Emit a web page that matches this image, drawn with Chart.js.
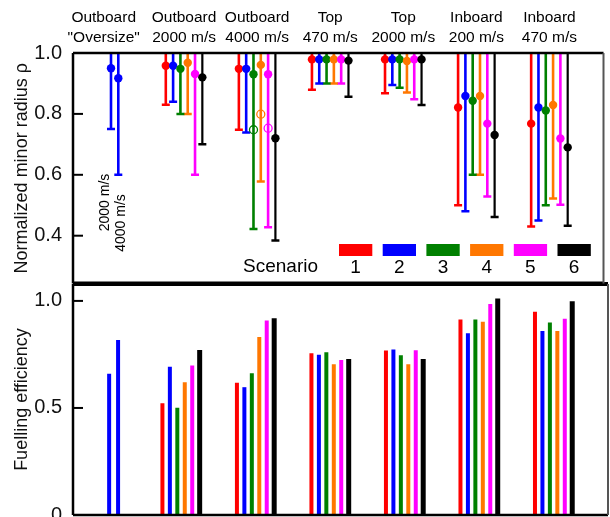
<!DOCTYPE html>
<html><head><meta charset="utf-8">
<script src="https://cdn.jsdelivr.net/npm/chart.js@4.4.1/dist/chart.umd.min.js"></script>
<style>
html,body{margin:0;padding:0;background:#fff;width:610px;height:517px;overflow:hidden;}
#wrap{position:relative;width:610px;height:517px;}
canvas{position:absolute;left:0;}
#top{top:0;width:610px;height:290px;}
#bot{top:270px;width:610px;height:247px;}
</style></head><body>
<div id="wrap"><canvas id="bot" width="610" height="247"></canvas><canvas id="top" width="610" height="290"></canvas></div>
<script>
// ---------- data ----------
const groupLabels = [['Outboard','"Oversize"'],['Outboard','2000 m/s'],['Outboard','4000 m/s'],['Top','470 m/s'],['Top','2000 m/s'],['Inboard','200 m/s'],['Inboard','470 m/s']];
const scenarioLabels = ['1','2','3','4','5','6'];
const scenarioColors = ['#ff0000','#0000ff','#008000','#ff7700','#ff00ff','#000000'];
const rhoTicks = [0.4,0.6,0.8,1.0];
const effTicks = [0,0.5,1.0];
const RHO_UPPER = 1.0;

// Outboard "Oversize" (scenario 2 only): 2000 m/s and 4000 m/s
const oversizeLabels = ['2000 m/s','4000 m/s'];
const oversizeRho = [0.95, 0.917];
const oversizeRhoLow = [0.75, 0.60];
const oversizeEff = [0.66, 0.818];

// groups: Outboard 2000, Outboard 4000, Top 470, Top 2000, Inboard 200, Inboard 470
const rhoMarker = [
  [0.958, 0.948, 0.979, 0.979, 0.821, 0.768],
  [0.958, 0.948, 0.979, 0.979, 0.859, 0.821],
  [0.948, 0.930, 0.979, 0.979, 0.843, 0.811],
  [0.968, 0.961, 0.979, 0.974, 0.859, 0.829],
  [0.931, 0.930, 0.979, 0.979, 0.768, 0.719],
  [0.920, 0.720, 0.975, 0.979, 0.731, 0.690]
];
const rhoLower = [
  [0.83, 0.748, 0.879, 0.868, 0.50, 0.43],
  [0.84, 0.739, 0.90, 0.895, 0.48, 0.45],
  [0.80, 0.422, 0.90, 0.886, 0.60, 0.50],
  [0.80, 0.578, 0.90, 0.870, 0.60, 0.522],
  [0.60, 0.428, 0.90, 0.848, 0.529, 0.502],
  [0.70, 0.384, 0.856, 0.829, 0.461, 0.433]
];
// open circles in Outboard 4000 m/s group
const outboard4000Open = [null, null, 0.748, 0.799, 0.753, null];

const efficiency = [
  [0.522, 0.618, 0.755, 0.768, 0.913, 0.949],
  [0.693, 0.597, 0.748, 0.773, 0.849, 0.860],
  [0.501, 0.662, 0.760, 0.746, 0.913, 0.899],
  [0.620, 0.832, 0.704, 0.704, 0.903, 0.860],
  [0.698, 0.908, 0.724, 0.770, 0.985, 0.917],
  [0.771, 0.919, 0.729, 0.729, 1.011, 0.999]
];

// ---------- layout helpers ----------
const FONT = "'Liberation Sans', Arial, Helvetica, sans-serif";
Chart.defaults.font.family = FONT;
Chart.defaults.color = '#000';
const slot = s => (s - 2.5) * 0.1;
const ovTop = [0.0, 0.1];
const ovBot = [0.035, 0.155];
const noPad = ax => { ax.paddingTop = 0; ax.paddingBottom = 0; ax.paddingLeft = 0; ax.paddingRight = 0; };

function framePlugin(id, isTop) {
  return {
    id,
    afterDraw(chart) {
      const {ctx, chartArea: a} = chart;
      const y = chart.scales.y;
      ctx.save();
      ctx.strokeStyle = '#000';
      ctx.lineWidth = 2;
      (isTop ? rhoTicks : effTicks).forEach(v => {
        const py = y.getPixelForValue(v);
        ctx.beginPath(); ctx.moveTo(a.left, py); ctx.lineTo(a.left + 10, py); ctx.stroke();
      });
      ctx.lineWidth = 2.5;
      ctx.beginPath();
      ctx.moveTo(a.left, a.top); ctx.lineTo(a.left, a.bottom);
      if (isTop) { ctx.moveTo(a.left, a.top); ctx.lineTo(a.right, a.top); }
      else { ctx.moveTo(a.left, a.bottom); ctx.lineTo(a.right, a.bottom); }
      ctx.stroke();
      ctx.lineWidth = 4;
      ctx.beginPath();
      const sy = isTop ? a.bottom : a.top;
      ctx.moveTo(a.left, sy); ctx.lineTo(a.right, sy); ctx.stroke();
      ctx.strokeStyle = '#555';
      ctx.lineWidth = 2;
      ctx.beginPath(); ctx.moveTo(a.right, a.top); ctx.lineTo(a.right, a.bottom); ctx.stroke();

      if (isTop) {
        ctx.fillStyle = '#000';
        ctx.textBaseline = 'middle';
        ctx.font = '19px ' + FONT;
        ctx.textAlign = 'right';
        ctx.fillText('Scenario', 318, 267);
        scenarioColors.forEach((c, i) => {
          const bx = 339 + i * 43.7;
          ctx.fillStyle = c;
          ctx.fillRect(bx, 244, 33.3, 12);
          ctx.fillStyle = '#000';
          ctx.textAlign = 'center';
          ctx.fillText(scenarioLabels[i], bx + 16.6, 268);
        });
        ctx.font = '14px ' + FONT;
        [[105.5, 202.5], [121.5, 223]].forEach((p, k) => {
          ctx.save();
          ctx.translate(p[0], p[1]);
          ctx.rotate(-Math.PI / 2);
          ctx.textAlign = 'center';
          ctx.fillText(oversizeLabels[k], 0, 0);
          ctx.restore();
        });
      }
      ctx.restore();
    }
  };
}

// ---------- top chart ----------
const topSets = [];
const blue = scenarioColors[1];
topSets.push({type: 'bar', data: oversizeRhoLow.map((lo, k) => ({x: ovTop[k], y: [lo, RHO_UPPER]})),
  backgroundColor: blue, maxBarThickness: 2.6, grouped: false, order: 30});
topSets.push({type: 'scatter', data: oversizeRhoLow.map((lo, k) => ({x: ovTop[k], y: lo})),
  pointStyle: 'line', pointRadius: 4, pointBorderColor: blue, pointBorderWidth: 2.5, order: 20});
topSets.push({type: 'scatter', data: oversizeRho.map((m, k) => ({x: ovTop[k], y: m})),
  pointStyle: 'circle', pointRadius: 4.2, pointBackgroundColor: blue, pointBorderColor: blue, pointBorderWidth: 0, order: 10});
for (let s = 0; s < 6; s++) {
  const c = scenarioColors[s];
  topSets.push({type: 'bar', data: rhoLower[s].map((lo, g) => ({x: g + 1 + slot(s), y: [lo, RHO_UPPER]})),
    backgroundColor: c, maxBarThickness: s === 5 ? 2.2 : 2.6, grouped: false, order: 30});
  topSets.push({type: 'scatter', data: rhoLower[s].map((lo, g) => ({x: g + 1 + slot(s), y: lo})),
    pointStyle: 'line', pointRadius: 4, pointBorderColor: c, pointBorderWidth: 2.5, order: 20});
  topSets.push({type: 'scatter', data: rhoMarker[s].map((m, g) => ({x: g + 1 + slot(s), y: m})),
    pointStyle: 'circle', pointRadius: 4.2, pointBackgroundColor: c, pointBorderColor: c, pointBorderWidth: 0, order: 10 - s});
  if (outboard4000Open[s] !== null) {
    topSets.push({type: 'scatter', data: [{x: 2 + slot(s), y: outboard4000Open[s]}],
      pointStyle: 'circle', pointRadius: 4, pointBackgroundColor: 'rgba(255,255,255,0)', pointBorderColor: c, pointBorderWidth: 1.3, order: 5});
  }
}

new Chart(document.getElementById('top'), {
  type: 'bar',
  data: {datasets: topSets},
  options: {
    responsive: false, animation: false, devicePixelRatio: 1, events: [],
    layout: {padding: {left: 0, right: 2, top: 0, bottom: 6}},
    plugins: {legend: {display: false}, tooltip: {enabled: false}},
    scales: {
      x: {
        type: 'linear', position: 'top', min: -0.52, max: 6.74, offset: false,
        grid: {display: false, drawTicks: false}, border: {display: false},
        afterBuildTicks: ax => { ax.ticks = groupLabels.map((g, i) => ({value: i === 0 ? -0.1 : i})); },
        afterFit: ax => { ax.height = 53; noPad(ax); },
        ticks: {autoSkip: false, maxRotation: 0, padding: 5, color: '#000',
          font: {size: 15.5, lineHeight: 1.29},
          callback: (v, i) => groupLabels[i]}
      },
      y: {
        type: 'linear', min: 0.243, max: 1.0,
        grid: {display: false, drawTicks: false}, border: {display: false},
        afterBuildTicks: ax => { ax.ticks = rhoTicks.map(v => ({value: v})); },
        afterFit: ax => { ax.width = 73; noPad(ax); },
        ticks: {padding: 11, color: '#111', font: {size: 20}, callback: v => v.toFixed(1)},
        title: {display: true, text: 'Normalized minor radius ρ', color: '#111', font: {size: 18}, padding: {top: 11, bottom: 0}}
      }
    }
  },
  plugins: [framePlugin('frameTop', true)]
});

// ---------- bottom chart ----------
const botSets = [];
botSets.push({type: 'bar', data: oversizeEff.map((v, k) => ({x: ovBot[k], y: v})),
  backgroundColor: blue, maxBarThickness: 4, grouped: false});
for (let s = 0; s < 6; s++) {
  botSets.push({type: 'bar', data: efficiency[s].map((v, g) => ({x: g + 1 + slot(s), y: v})),
    backgroundColor: scenarioColors[s], maxBarThickness: s === 5 ? 5 : 4, grouped: false});
}

new Chart(document.getElementById('bot'), {
  type: 'bar',
  data: {datasets: botSets},
  options: {
    responsive: false, animation: false, devicePixelRatio: 1, events: [],
    layout: {padding: {left: 0, right: 2, top: 14, bottom: 2}},
    plugins: {legend: {display: false}, tooltip: {enabled: false}},
    scales: {
      x: {type: 'linear', display: false, min: -0.45, max: 6.73, offset: false},
      y: {
        type: 'linear', min: 0, max: 1.079,
        grid: {display: false, drawTicks: false}, border: {display: false},
        afterBuildTicks: ax => { ax.ticks = effTicks.map(v => ({value: v})); },
        afterFit: ax => { ax.width = 73; noPad(ax); },
        ticks: {padding: 11, color: '#111', font: {size: 20}, callback: v => v === 0 ? '0' : v.toFixed(1)},
        title: {display: true, text: 'Fuelling efficiency', color: '#111', font: {size: 18}, padding: {top: 11, bottom: 0}}
      }
    }
  },
  plugins: [framePlugin('frameBot', false)]
});
</script>
</body></html>
